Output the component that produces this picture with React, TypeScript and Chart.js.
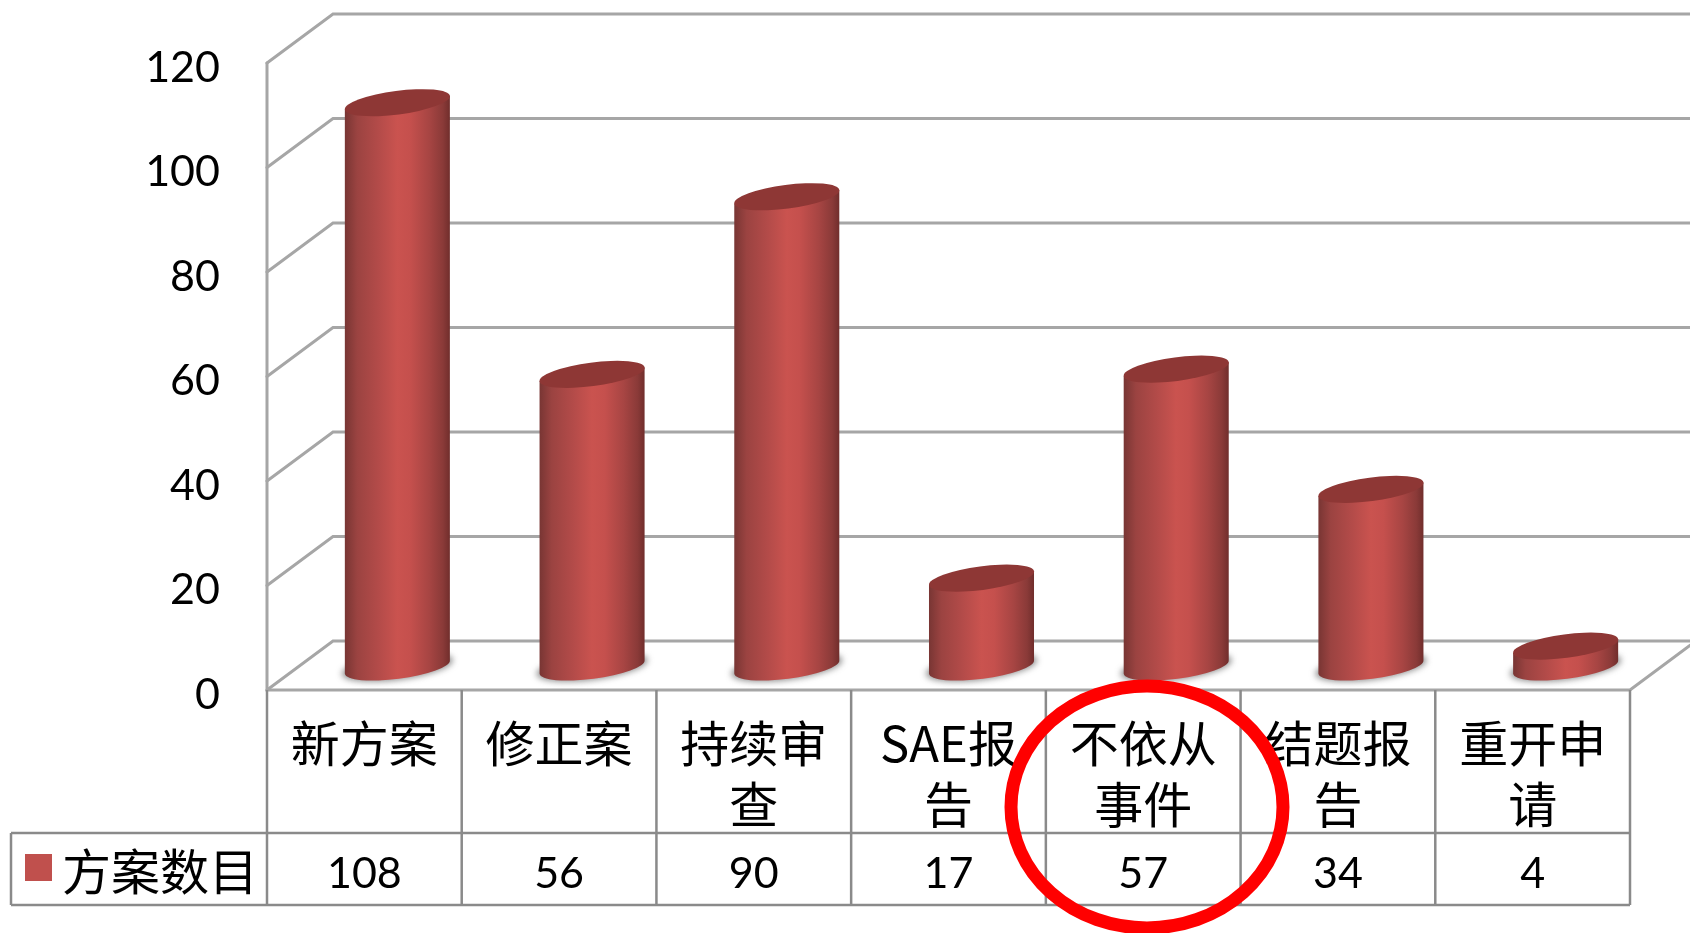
import React, { useEffect, useRef } from "react";
import { Chart, registerables } from "chart.js";

Chart.register(...registerables);

const categories = [
  ["新方案"],
  ["修正案"],
  ["持续审", "查"],
  ["SAE报", "告"],
  ["不依从", "事件"],
  ["结题报", "告"],
  ["重开申", "请"],
];
const seriesName = "方案数目";
const planCounts = [108, 56, 90, 17, 57, 34, 4];
const yTicks = { min: 0, max: 120, step: 20 };

const WIDTH = 1690;
const HEIGHT = 933;
const FONT_CJK = "'Noto Sans CJK SC'";
const FONT_LATIN = "Lato";
const DEPTH_X = 66;
const DEPTH_Y = 49;
const GRID_COLOR = "#a6a6a6";
const TABLE_COLOR = "#8a8a8a";
const SERIES_COLOR = "#c0504d";

// Oblique 3D walls: a side wall, a floor and one back line per y tick.
const wallPlugin = {
  id: "walls",
  beforeDatasetsDraw(chart: any) {
    const { ctx, chartArea, scales } = chart;
    const { left, right, bottom } = chartArea;
    ctx.save();
    ctx.strokeStyle = GRID_COLOR;
    ctx.lineWidth = 3;
    ctx.lineCap = "round";
    for (const tick of scales.y.ticks) {
      const y = scales.y.getPixelForValue(tick.value);
      ctx.beginPath();
      ctx.moveTo(left, y);
      ctx.lineTo(left + DEPTH_X, y - DEPTH_Y);
      ctx.lineTo(WIDTH, y - DEPTH_Y);
      ctx.stroke();
    }
    ctx.beginPath();
    ctx.moveTo(left, scales.y.top);
    ctx.lineTo(left, bottom);
    ctx.lineTo(right, bottom);
    ctx.lineTo(right + DEPTH_X, bottom - DEPTH_Y);
    ctx.stroke();
    ctx.restore();
  },
};

// Replaces each flat bar with a shaded cylinder standing on the floor.
const cylinderPlugin = {
  id: "cylinders",
  beforeDatasetDraw(chart: any, args: any) {
    const { ctx } = chart;
    const meta = chart.getDatasetMeta(args.index);
    const shiftX = 33;
    const shiftY = 23;
    const tilt = -0.13;
    const minor = 11.8;
    for (const bar of meta.data) {
      const major = bar.width / 2;
      const cx = bar.x + shiftX;
      const topY = bar.y - shiftY;
      const baseY = bar.base - shiftY;
      const endX = major * Math.cos(tilt);
      const endY = major * Math.sin(tilt);

      // Soft contact shadow on the floor.
      ctx.save();
      ctx.filter = "blur(3px)";
      ctx.fillStyle = "rgba(80,80,80,0.65)";
      ctx.beginPath();
      ctx.ellipse(cx, baseY, major + 3, minor + 1, tilt, 0, Math.PI * 2);
      ctx.fill();
      ctx.restore();

      const shade = ctx.createLinearGradient(cx - major, 0, cx + major, 0);
      shade.addColorStop(0, "#773533");
      shade.addColorStop(0.12, "#9b4341");
      shade.addColorStop(0.32, "#b34b49");
      shade.addColorStop(0.5, "#ca534f");
      shade.addColorStop(0.62, "#c5504d");
      shade.addColorStop(0.8, "#a74543");
      shade.addColorStop(0.93, "#8a3a38");
      shade.addColorStop(1, "#6f2d2b");
      ctx.fillStyle = shade;
      ctx.beginPath();
      ctx.ellipse(cx, baseY, major, minor, tilt, 0, Math.PI);
      ctx.lineTo(cx - endX, topY - endY);
      ctx.lineTo(cx + endX, topY + endY);
      ctx.closePath();
      ctx.fill();

      ctx.fillStyle = "#8e3735";
      ctx.beginPath();
      ctx.ellipse(cx, topY, major, minor, tilt, 0, Math.PI * 2);
      ctx.fill();
    }
    return false;
  },
};

// Value axis labels sit slightly below their gridline ends, so they are placed
// from the scale's own ticks with a small downward offset.
const yLabelPlugin = {
  id: "yLabels",
  afterDraw(chart: any) {
    const { ctx, scales } = chart;
    ctx.save();
    ctx.fillStyle = "#000";
    ctx.textAlign = "right";
    ctx.textBaseline = "middle";
    ctx.font = `43px ${FONT_LATIN}`;
    for (const tick of scales.y.ticks) {
      ctx.fillText(String(tick.value), 220, scales.y.getPixelForValue(tick.value) + 5);
    }
    ctx.restore();
  },
};

// Data table under the plot: category cells come from the x ticks, this adds
// the rules, the legend key and the value row.
const dataTablePlugin = {
  id: "dataTable",
  afterDraw(chart: any) {
    const { ctx, chartArea, scales } = chart;
    const { left, right, bottom } = chartArea;
    const rowTop = 833;
    const rowBottom = 905;
    const tableLeft = 11;
    const band = (right - left) / planCounts.length;

    ctx.save();
    ctx.strokeStyle = TABLE_COLOR;
    ctx.lineWidth = 2.5;
    ctx.beginPath();
    ctx.moveTo(tableLeft, rowTop);
    ctx.lineTo(right, rowTop);
    ctx.moveTo(tableLeft, rowBottom);
    ctx.lineTo(right, rowBottom);
    ctx.moveTo(tableLeft, rowTop);
    ctx.lineTo(tableLeft, rowBottom);
    for (let i = 0; i <= planCounts.length; i++) {
      const x = left + i * band;
      ctx.moveTo(x, bottom);
      ctx.lineTo(x, rowBottom);
    }
    ctx.stroke();

    ctx.fillStyle = SERIES_COLOR;
    ctx.fillRect(25, 854, 27, 27);

    ctx.fillStyle = "#000";
    ctx.textBaseline = "middle";
    ctx.textAlign = "left";
    ctx.font = `49px ${FONT_CJK}`;
    ctx.fillText(seriesName, 62, 871);

    ctx.textAlign = "center";
    ctx.font = `43px ${FONT_LATIN}`;
    planCounts.forEach((value, i) => {
      ctx.fillText(String(value), scales.x.getPixelForTick(i), 874);
    });
    ctx.restore();
  },
};

// Hand-drawn red emphasis ring around the 不依从事件 column.
const emphasisPlugin = {
  id: "emphasisRing",
  afterDraw(chart: any) {
    const { ctx } = chart;
    ctx.save();
    ctx.strokeStyle = "#ff0000";
    ctx.lineWidth = 13;
    ctx.beginPath();
    ctx.ellipse(1147, 807, 136, 121, 0, 0, Math.PI * 2);
    ctx.stroke();
    ctx.restore();
  },
};

export default function App() {
  const canvasRef = useRef<HTMLCanvasElement | null>(null);

  useEffect(() => {
    const chart = new Chart(canvasRef.current as HTMLCanvasElement, {
      type: "bar",
      data: {
        labels: categories,
        datasets: [
          {
            label: seriesName,
            data: planCounts,
            backgroundColor: SERIES_COLOR,
            categoryPercentage: 1,
            barPercentage: 0.544,
          },
        ],
      },
      options: {
        responsive: false,
        animation: false,
        layout: { padding: { top: 63, right: 60, bottom: 0, left: 0 } },
        plugins: { legend: { display: false }, tooltip: { enabled: false } },
        scales: {
          x: {
            afterFit: (scale: any) => {
              scale.height = 243;
              scale.paddingLeft = 0;
              scale.paddingRight = 0;
            },
            grid: { display: false },
            border: { display: false },
            ticks: {
              color: "#000",
              maxRotation: 0,
              autoSkip: false,
              padding: 15,
              font: { family: FONT_CJK, size: 49, lineHeight: 1.245 },
            },
          },
          y: {
            min: yTicks.min,
            max: yTicks.max,
            afterFit: (scale: any) => {
              scale.width = 267;
              scale.paddingTop = 0;
              scale.paddingBottom = 0;
            },
            grid: { display: false, drawTicks: false },
            border: { display: false },
            ticks: {
              stepSize: yTicks.step,
              display: false,
            },
          },
        },
      },
      plugins: [wallPlugin, cylinderPlugin, yLabelPlugin, dataTablePlugin, emphasisPlugin],
    } as any);
    return () => chart.destroy();
  }, []);

  return (
    <div style={{ position: "absolute", left: 0, top: 0, width: WIDTH, height: HEIGHT, background: "#fff" }}>
      <canvas ref={canvasRef} width={WIDTH} height={HEIGHT} style={{ display: "block" }} />
    </div>
  );
}
